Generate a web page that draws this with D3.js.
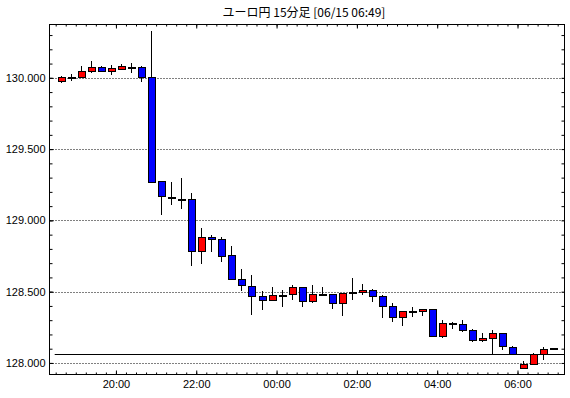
<!DOCTYPE html>
<html>
<head>
<meta charset="utf-8">
<script src="https://cdn.jsdelivr.net/npm/d3@7"></script>
<style>
  body { margin: 0; background: #fff; }
  text { font-family: "Liberation Sans", Arial, sans-serif; }
</style>
</head>
<body>
<script>
// 15 minute candles, EUR/JPY
var times = ["18:30","18:45","19:00","19:15","19:30","19:45","20:00","20:15","20:30","20:45",
             "21:00","21:15","21:30","21:45","22:00","22:15","22:30","22:45","23:00","23:15",
             "23:30","23:45","00:00","00:15","00:30","00:45","01:00","01:15","01:30","01:45",
             "02:00","02:15","02:30","02:45","03:00","03:15","03:30","03:45","04:00","04:15",
             "04:30","04:45","05:00","05:15","05:30","05:45","06:00","06:15","06:30","06:45"];

var open  = [129.974,130.000,130.000,130.042,130.070,130.046,130.060,130.072,130.070,130.000,
             129.271,129.158,129.150,129.144,128.780,128.880,128.866,128.752,128.584,128.534,
             128.464,128.436,128.473,128.478,128.527,128.429,128.478,128.478,128.415,128.492,
             128.492,128.506,128.464,128.398,128.317,128.361,128.359,128.377,128.186,128.275,
             128.270,128.228,128.158,128.172,128.205,128.109,127.959,127.987,128.060,128.098];
var high  = [130.016,130.028,130.086,130.121,130.084,130.093,130.095,130.107,130.084,130.325,
             129.271,129.266,129.294,129.189,128.950,128.894,128.880,128.817,128.656,128.618,
             128.506,128.536,128.513,128.544,128.527,128.550,128.536,128.478,128.485,128.597,
             128.557,128.520,128.480,128.422,128.366,128.394,128.377,128.380,128.303,128.289,
             128.303,128.235,128.207,128.233,128.205,128.116,128.013,128.069,128.109,128.101];
var low   = [129.962,129.981,130.000,130.032,130.039,130.021,130.056,130.032,129.969,129.268,
             129.039,129.109,129.079,128.679,128.693,128.777,128.707,128.584,128.503,128.335,
             128.370,128.433,128.391,128.443,128.391,128.422,128.478,128.380,128.328,128.445,
             128.478,128.427,128.314,128.286,128.259,128.324,128.331,128.183,128.174,128.237,
             128.216,128.146,128.144,128.062,128.090,128.060,127.959,127.987,128.018,128.094];
var close = [130.004,130.004,130.042,130.070,130.046,130.063,130.077,130.072,130.000,129.268,
             129.166,129.153,129.146,128.780,128.878,128.864,128.749,128.584,128.542,128.464,
             128.436,128.471,128.473,128.527,128.429,128.478,128.478,128.415,128.485,128.492,
             128.506,128.464,128.398,128.317,128.359,128.361,128.377,128.186,128.275,128.275,
             128.226,128.158,128.172,128.207,128.112,128.060,127.987,128.060,128.093,128.098];

var yLabels = [128.0, 128.5, 129.0, 129.5, 130.0];
var refLine = 128.060;
var title = "ユーロ円 15分足 [06/15 06:49]";

var W = 570, H = 398;
var L = 49.5, R = 564.5, T = 24.5, B = 374.5;

// turn "hh:mm" into dates, night rolls over to the next day
function toDate(s) {
  var p = s.split(":"), h = +p[0], m = +p[1];
  return new Date(2024, 5, h < 12 ? 15 : 14, h, m);
}
var data = times.map(function(t, i) {
  return {t: toDate(t), o: open[i], h: high[i], l: low[i], c: close[i]};
});

var x = d3.scaleTime()
    .domain([new Date(2024, 5, 14, 18, 20, 45), new Date(2024, 5, 15, 7, 10, 12)])
    .range([L, R]);
var y = d3.scaleLinear()
    .domain([127.919, 130.374])
    .range([B, T]);

var svg = d3.select('body').append('svg')
    .attr('width', W)
    .attr('height', H);

svg.append('text')
    .attr('x', 304)
    .attr('y', 17)
    .attr('text-anchor', 'middle')
    .style('font-family', '"Noto Sans CJK JP", sans-serif')
    .style('font-size', '12px')
    .text(title);

// dotted grid
svg.selectAll('line.grid')
    .data(yLabels)
    .enter()
    .append('line')
    .attr('class', 'grid')
    .attr('x1', L).attr('x2', R)
    .attr('y1', function(d){ return Math.round(y(d)) + 0.5; })
    .attr('y2', function(d){ return Math.round(y(d)) + 0.5; })
    .attr('stroke', '#000')
    .attr('stroke-dasharray', '1,2');

// solid reference line
svg.append('line')
    .attr('x1', x(data[0].t) - 1).attr('x2', R)
    .attr('y1', Math.round(y(refLine)) + 0.5)
    .attr('y2', Math.round(y(refLine)) + 0.5)
    .attr('stroke', '#000');

// axes
function clean(g) {
  g.select('.domain').remove();
  g.selectAll('.tick line').attr('stroke', '#000');
  g.selectAll('text').style('font-family', '"Liberation Sans", Arial, sans-serif')
    .style('font-size', '11px').attr('fill', '#000');
}
var minorT = d3.timeMinute.every(15), majorT = d3.timeHour.every(2);
var minorY = d3.range(128.0, 130.35, 0.1);

svg.append('g').attr('transform', 'translate(0,' + B + ')')
  .call(d3.axisBottom(x).ticks(minorT).tickSize(-2).tickFormat('')).call(clean);
svg.append('g').attr('transform', 'translate(0,' + B + ')')
  .call(d3.axisBottom(x).ticks(majorT).tickSize(-4).tickPadding(6)
        .tickFormat(d3.timeFormat('%H:%M'))).call(clean);
svg.append('g').attr('transform', 'translate(0,' + T + ')')
  .call(d3.axisTop(x).ticks(minorT).tickSize(-2).tickFormat('')).call(clean);
svg.append('g').attr('transform', 'translate(0,' + T + ')')
  .call(d3.axisTop(x).ticks(majorT).tickSize(-4).tickFormat('')).call(clean);

svg.append('g').attr('transform', 'translate(' + L + ',0)')
  .call(d3.axisLeft(y).tickValues(minorY).tickSize(-3).tickFormat('')).call(clean);
svg.append('g').attr('transform', 'translate(' + L + ',0)')
  .call(d3.axisLeft(y).tickValues(yLabels).tickSize(-4).tickPadding(4)
        .tickFormat(d3.format('.3f'))).call(clean);
svg.append('g').attr('transform', 'translate(' + R + ',0)')
  .call(d3.axisRight(y).tickValues(minorY).tickSize(-3).tickFormat('')).call(clean);

svg.append('rect')
    .attr('x', L).attr('y', T)
    .attr('width', R - L).attr('height', B - T)
    .attr('fill', 'none')
    .attr('stroke', '#000');

// candles
var half = 7.5 * 60000;
function cx(d) { return Math.round(x(new Date(+d.t + half))) + 0.5; }

var g = svg.append('g').attr('shape-rendering', 'crispEdges');
g.selectAll('line.wick')
    .data(data)
    .enter()
    .append('line')
    .attr('x1', cx).attr('x2', cx)
    .attr('y1', function(d){ return y(d.h); })
    .attr('y2', function(d){ return y(d.l); })
    .attr('stroke', '#000');

g.selectAll('rect.body')
    .data(data)
    .enter()
    .append('rect')
    .attr('x', function(d){ return cx(d) - 3.5; })
    .attr('y', function(d){ return y(Math.max(d.o, d.c)); })
    .attr('width', 7)
    .attr('height', function(d){ return Math.max(1, Math.abs(y(d.o) - y(d.c))); })
    .attr('fill', function(d){
      if (d.o == d.c) return '#000';
      return d.c > d.o ? '#ff0000' : '#0000ff';
    })
    .attr('stroke', '#000');
</script>
</body>
</html>
